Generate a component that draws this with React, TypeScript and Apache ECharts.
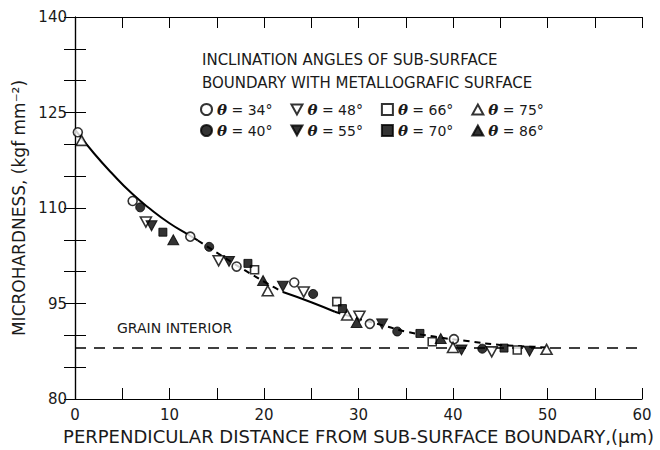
import React, { useEffect, useRef } from 'react';
import * as echarts from 'echarts';

// ---- data ----
const theta34X = [0.3, 6.1, 12.2, 17.1, 23.2, 31.2, 40.1];
const theta34Y = [121.9, 111.1, 105.5, 100.8, 98.3, 91.8, 89.4];

const theta40X = [6.9, 14.2, 25.2, 34.1, 43.1];
const theta40Y = [110.1, 103.9, 96.5, 90.6, 87.9];

const theta48X = [7.5, 15.2, 24.2, 30.1, 44.1];
const theta48Y = [107.8, 101.7, 96.8, 93.0, 87.4];

const theta55X = [8.1, 16.3, 22.0, 32.5, 40.9, 48.1];
const theta55Y = [107.2, 101.6, 97.7, 91.8, 87.7, 87.5];

const theta66X = [19.0, 27.7, 37.8, 46.8];
const theta66Y = [100.3, 95.3, 89.0, 87.7];

const theta70X = [9.3, 18.3, 28.3, 36.5, 45.4];
const theta70Y = [106.2, 101.3, 94.2, 90.3, 88.0];

const theta75X = [0.7, 20.4, 28.8, 40.0, 49.9];
const theta75Y = [120.6, 97.0, 93.2, 88.1, 87.8];

const theta86X = [10.4, 19.9, 29.8, 38.7];
const theta86Y = [105.0, 98.6, 92.0, 89.5];

// fitted curve
const curveX = [0, 2, 4, 6, 8, 10, 12, 13, 15, 18, 21, 22, 25, 27.5, 30, 33, 35, 38, 41.5, 45, 50];
const curveY = [122.3, 118.6, 115.3, 112.3, 109.8, 107.6, 105.8, 104.9, 103.0, 100.2, 97.6, 96.8, 95.2, 93.7, 92.6, 91.4, 90.6, 89.8, 89.1, 88.5, 88.1];
// where the traced curve switches between solid and broken drawing
const curveBreaks = [0, 7, 11, 13, 20];
const curveKinds = ['solid', 'dashed', 'solid', 'dashed'];

const grainInteriorLevel = 88;
const xRange = [0, 60];
const yRange = [80, 140];

const row1Names = ['θ=34°', 'θ=48°', 'θ=66°', 'θ=75°'];
const row2Names = ['θ=40°', 'θ=55°', 'θ=70°', 'θ=86°'];

const FONT = 'DejaVu Sans';
const INK = '#1a1a1a';

const DOWN_TRI = 'path://M0,0L10,0L5,9Z';
const UP_TRI = 'path://M5,0L10,9L0,9Z';

const groups = [
  { name: 'θ=34°', xs: theta34X, ys: theta34Y, symbol: 'circle', filled: false, size: 9 },
  { name: 'θ=48°', xs: theta48X, ys: theta48Y, symbol: DOWN_TRI, filled: false, size: [11, 10] },
  { name: 'θ=66°', xs: theta66X, ys: theta66Y, symbol: 'rect', filled: false, size: 8 },
  { name: 'θ=75°', xs: theta75X, ys: theta75Y, symbol: UP_TRI, filled: false, size: [11, 10] },
  { name: 'θ=40°', xs: theta40X, ys: theta40Y, symbol: 'circle', filled: true, size: 9 },
  { name: 'θ=55°', xs: theta55X, ys: theta55Y, symbol: DOWN_TRI, filled: true, size: [11, 10] },
  { name: 'θ=70°', xs: theta70X, ys: theta70Y, symbol: 'rect', filled: true, size: 8 },
  { name: 'θ=86°', xs: theta86X, ys: theta86Y, symbol: UP_TRI, filled: true, size: [11, 10] },
];

export default function App() {
  const ref = useRef<HTMLDivElement>(null);

  useEffect(() => {
    if (!ref.current) return;
    const chart = echarts.init(ref.current, null, { renderer: 'svg' });

    const curveSeries = curveKinds.map((kind, k) => {
      const pts: number[][] = [];
      for (let i = curveBreaks[k]; i <= curveBreaks[k + 1]; i++) pts.push([curveX[i], curveY[i]]);
      return {
        type: 'line',
        data: pts,
        smooth: true,
        showSymbol: false,
        silent: true,
        z: 2,
        lineStyle: { color: '#000', width: 2, type: kind === 'solid' ? 'solid' : [6, 5] },
      };
    });

    const scatterSeries = groups.map((g) => ({
      type: 'scatter',
      name: g.name,
      data: g.xs.map((x, i) => [x, g.ys[i]]),
      symbol: g.symbol,
      symbolSize: g.size,
      z: 5,
      itemStyle: g.filled
        ? { color: '#000', borderColor: '#000', borderWidth: 1 }
        : { color: '#fff', borderColor: '#000', borderWidth: 1.6 },
    }));

    const legendCommon = {
      orient: 'horizontal',
      itemWidth: 11,
      itemHeight: 11,
      itemGap: 18,
      selectedMode: false,
      padding: 0,
      formatter: (name: string) => `{t|θ} = ${name.slice(2)}`,
      textStyle: {
        color: INK,
        fontFamily: FONT,
        fontSize: 14,
        rich: {
          t: { fontFamily: 'DejaVu Serif', fontStyle: 'italic', fontWeight: 'bold', fontSize: 15, color: INK },
        },
      },
    };

    const tickCommon = { show: true, inside: true, length: 11, lineStyle: { color: '#000', width: 1 } };
    const lineCommon = { show: true, lineStyle: { color: '#000', width: 1.2 } };

    chart.setOption({
      animation: false,
      backgroundColor: '#fff',
      title: {
        text: 'INCLINATION ANGLES OF SUB-SURFACE\nBOUNDARY WITH METALLOGRAFIC SURFACE',
        left: 202,
        top: 48,
        padding: 0,
        textStyle: { fontFamily: FONT, fontSize: 15, fontWeight: 'normal', color: INK, lineHeight: 23 },
      },
      legend: [
        { ...legendCommon, data: row1Names, left: 200, top: 102 },
        { ...legendCommon, data: row2Names, left: 200, top: 123 },
      ],
      grid: { left: 75, right: 18, top: 17, bottom: 51 },
      xAxis: [
        {
          type: 'value',
          min: xRange[0],
          max: xRange[1],
          interval: 5,
          position: 'bottom',
          axisLine: lineCommon,
          axisTick: tickCommon,
          splitLine: { show: false },
          axisLabel: {
            color: INK,
            fontFamily: FONT,
            fontSize: 15,
            margin: 8,
            formatter: (v: number) => (v % 10 === 0 ? String(v) : ''),
          },
          name: 'PERPENDICULAR DISTANCE FROM SUB-SURFACE BOUNDARY,(μm)',
          nameLocation: 'middle',
          nameGap: 28,
          nameTextStyle: { color: INK, fontFamily: FONT, fontSize: 18 },
        },
        {
          type: 'value',
          min: xRange[0],
          max: xRange[1],
          interval: 5,
          position: 'top',
          axisLine: lineCommon,
          axisTick: tickCommon,
          axisLabel: { show: false },
          splitLine: { show: false },
        },
      ],
      yAxis: [
        {
          type: 'value',
          min: yRange[0],
          max: yRange[1],
          interval: 5,
          position: 'left',
          axisLine: lineCommon,
          axisTick: tickCommon,
          splitLine: { show: false },
          axisLabel: {
            color: INK,
            fontFamily: FONT,
            fontSize: 15,
            margin: 8,
            formatter: (v: number) => ((v - yRange[0]) % 15 === 0 ? String(v) : ''),
          },
          name: 'MICROHARDNESS, (kgf mm⁻²)',
          nameLocation: 'middle',
          nameGap: 40,
          nameRotate: 90,
          nameTextStyle: { color: INK, fontFamily: FONT, fontSize: 17 },
        },
        {
          type: 'value',
          min: yRange[0],
          max: yRange[1],
          interval: 5,
          position: 'right',
          axisLine: lineCommon,
          axisTick: tickCommon,
          axisLabel: { show: false },
          splitLine: { show: false },
        },
      ],
      graphic: [
        {
          type: 'text',
          left: 117,
          top: 321,
          style: { text: 'GRAIN INTERIOR', fontFamily: FONT, fontSize: 14, fill: INK },
        },
      ],
      series: [
        {
          type: 'line',
          data: [
            [xRange[0], grainInteriorLevel],
            [xRange[1], grainInteriorLevel],
          ],
          showSymbol: false,
          silent: true,
          z: 1,
          lineStyle: { color: '#000', width: 1.4, type: [11, 8] },
        },
        ...curveSeries,
        ...scatterSeries,
      ],
    });

    return () => chart.dispose();
  }, []);

  return (
    <div
      ref={ref}
      style={{ position: 'fixed', left: 0, top: 0, width: 660, height: 450, background: '#fff' }}
    />
  );
}
